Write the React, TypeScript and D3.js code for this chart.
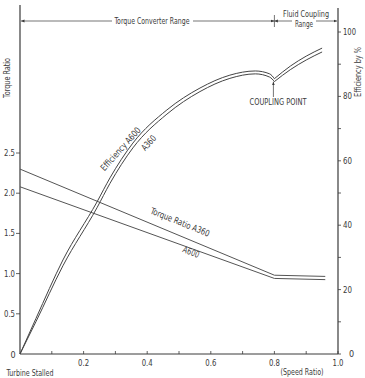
import React from "react";
import * as d3 from "d3";

const W = 365;
const H = 378;

// Efficiency (%) vs speed ratio, split at the coupling point (0.8)
const effX1 = [0, 0.05, 0.135, 0.242, 0.283, 0.355, 0.462, 0.566, 0.66, 0.74, 0.785, 0.8];
const effA600_1 = [0, 11, 29.2, 47.2, 54.7, 65.5, 75.8, 82.6, 86.6, 87.9, 87.0, 85.5];
const effA360_1 = [0, 10, 27.4, 45.4, 53.0, 64.0, 74.5, 81.5, 85.6, 87.0, 86.0, 84.6];
const effX2 = [0.8, 0.85, 0.9, 0.95];
const effA600_2 = [85.5, 89.4, 92.5, 95.0];
const effA360_2 = [84.6, 88.3, 91.3, 93.8];

// Torque ratio vs speed ratio
const trX = [0, 0.8, 0.96];
const trA360 = [2.3, 0.98, 0.965];
const trA600 = [2.08, 0.94, 0.925];

const xTicks = [0.2, 0.4, 0.6, 0.8, 1.0];
const xMinor = [0.1, 0.3, 0.5, 0.7, 0.9];
const leftTicks = [0, 0.5, 1.0, 1.5, 2.0, 2.5];
const rightTicks = [0, 20, 40, 60, 80, 100];
const rightMinor = [10, 30, 50, 70, 90];

const FONT = "'Liberation Sans Narrow', 'DejaVu Sans Condensed', 'Roboto Condensed', 'Roboto', sans-serif";
const INK = "#3a3a3a";

function T(props: {
  x?: number;
  y?: number;
  transform?: string;
  len?: number;
  size?: number;
  anchor?: string;
  children: React.ReactNode;
}) {
  const { x = 0, y = 0, transform, len, size = 9, anchor = "middle", children } = props;
  return (
    <text
      x={x}
      y={y}
      transform={transform}
      fontSize={size}
      textAnchor={anchor}
      fill={INK}
      textLength={len}
      lengthAdjust={len ? "spacingAndGlyphs" : undefined}
    >
      {children}
    </text>
  );
}

export default function App() {
  const x = d3.scaleLinear().domain([0, 1]).range([20, 338]);
  const yL = d3.scaleLinear().domain([0, 2.5]).range([354, 153]);
  const yR = d3.scaleLinear().domain([0, 100]).range([354, 32]);

  const effLine = d3
    .line<[number, number]>()
    .x((d) => x(d[0]))
    .y((d) => yR(d[1]))
    .curve(d3.curveMonotoneX);
  const trLine = d3
    .line<[number, number]>()
    .x((d) => x(d[0]))
    .y((d) => yL(d[1]));

  const zip = (a: number[], b: number[]) => a.map((v, i) => [v, b[i]] as [number, number]);

  const fmt1 = (v: number) => (v === 0 ? "0" : v.toFixed(1));
  const arrowY = 21;
  const cpx = x(0.8);
  const cpy = yR(effA600_2[0]);

  return (
    <svg
      width={W}
      height={H}
      style={{ position: "absolute", left: 0, top: 0, background: "#fff" }}
      fontFamily={FONT}
    >
      <defs>
        <marker id="ah" viewBox="0 0 10 10" refX="10" refY="5" markerWidth="5" markerHeight="5" orient="auto-start-reverse">
          <path d="M0,1 L10,5 L0,9 z" fill={INK} />
        </marker>
      </defs>

      {/* axes */}
      <line x1={20} y1={5} x2={20} y2={354} stroke={INK} strokeWidth={1.2} />
      <line x1={338} y1={8} x2={338} y2={354} stroke={INK} strokeWidth={1.2} />
      <line x1={20} y1={354} x2={338} y2={354} stroke={INK} strokeWidth={1} />

      {/* x ticks */}
      {xTicks.concat(xMinor).map((t) => (
        <line key={"xt" + t} x1={x(t)} x2={x(t)} y1={354} y2={351} stroke={INK} strokeWidth={0.8} />
      ))}
      {xTicks.map((t) => (
        <T key={"xl" + t} x={x(t)} y={366} len={11}>
          {t.toFixed(1)}
        </T>
      ))}
      <T x={13} y={358}>0</T>

      {/* left ticks */}
      {leftTicks.filter((t) => t > 0).map((t) => (
        <g key={"lt" + t}>
          <line x1={16} x2={20} y1={yL(t)} y2={yL(t)} stroke={INK} strokeWidth={0.8} />
          <T x={15} y={yL(t) + 3} anchor="end" len={11}>
            {fmt1(t)}
          </T>
        </g>
      ))}

      {/* right ticks */}
      {rightTicks.concat(rightMinor).map((t) => (
        <line key={"rt" + t} x1={338} x2={341} y1={yR(t)} y2={yR(t)} stroke={INK} strokeWidth={0.8} />
      ))}
      {rightTicks.map((t) => (
        <T
          key={"rl" + t}
          x={t === 0 ? 349 : 343}
          y={yR(t) + 3}
          anchor="start"
          len={t === 100 ? 13 : t === 0 ? undefined : 9}
        >
          {t}
        </T>
      ))}

      {/* axis titles */}
      <T transform="translate(10,78) rotate(-90)" len={40}>Torque Ratio</T>
      <T transform="translate(361,72) rotate(-90)" len={50}>Efficiency by %</T>
      <T x={30} y={376} len={47}>Turbine Stalled</T>
      <T x={302} y={375} len={43}>(Speed Ratio)</T>

      {/* range annotations */}
      <line x1={21} y1={arrowY} x2={112} y2={arrowY} stroke={INK} strokeWidth={0.7} markerStart="url(#ah)" />
      <line x1={193} y1={arrowY} x2={cpx} y2={arrowY} stroke={INK} strokeWidth={0.7} markerEnd="url(#ah)" />
      <T x={152} y={24} len={75}>Torque Converter Range</T>
      <line x1={cpx} y1={15} x2={cpx} y2={27} stroke={INK} strokeWidth={0.7} />
      <line x1={cpx} y1={arrowY} x2={292} y2={arrowY} stroke={INK} strokeWidth={0.7} markerStart="url(#ah)" />
      <line x1={316} y1={arrowY} x2={337} y2={arrowY} stroke={INK} strokeWidth={0.7} markerEnd="url(#ah)" />
      <T x={306} y={17} len={46}>Fluid Coupling</T>
      <T x={304} y={27} len={18}>Range</T>

      {/* torque ratio lines */}
      <path d={trLine(zip(trX, trA360)) || ""} fill="none" stroke="#555" strokeWidth={1} />
      <path d={trLine(zip(trX, trA600)) || ""} fill="none" stroke="#555" strokeWidth={1} />

      {/* efficiency lines */}
      <path d={effLine(zip(effX1, effA600_1)) || ""} fill="none" stroke="#444" strokeWidth={1} />
      <path d={effLine(zip(effX2, effA600_2)) || ""} fill="none" stroke="#444" strokeWidth={1} />
      <path d={effLine(zip(effX1, effA360_1)) || ""} fill="none" stroke="#444" strokeWidth={1} />
      <path d={effLine(zip(effX2, effA360_2)) || ""} fill="none" stroke="#444" strokeWidth={1} />

      {/* coupling point */}
      <line x1={cpx - 1} y1={97} x2={cpx - 1} y2={cpy + 3} stroke={INK} strokeWidth={0.7} markerEnd="url(#ah)" />
      <T x={278} y={105} len={57}>COUPLING POINT</T>

      {/* curve labels */}
      <T transform="translate(123,151) rotate(-48)" len={55}>Efficiency A600</T>
      <T transform="translate(151,145) rotate(-48)" len={17}>A360</T>
      <T transform="translate(179,225) rotate(22)" len={63}>Torque Ratio A360</T>
      <T transform="translate(190,255) rotate(22)" len={17}>A600</T>
    </svg>
  );
}
